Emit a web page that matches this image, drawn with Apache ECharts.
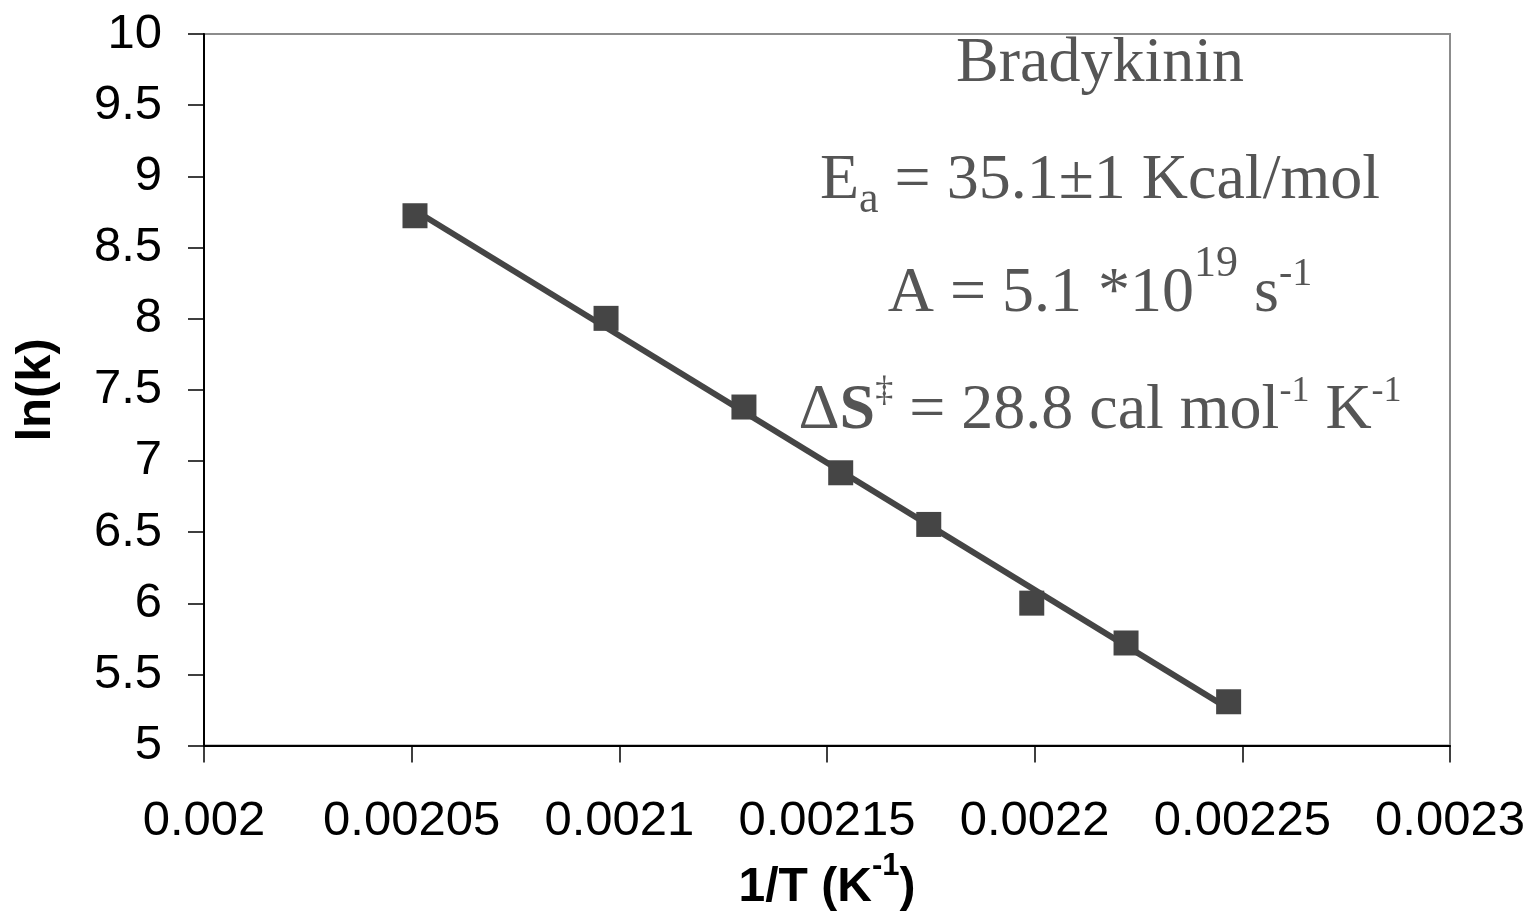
<!DOCTYPE html>
<html>
<head>
<meta charset="utf-8">
<script src="https://cdn.jsdelivr.net/npm/echarts@6/dist/echarts.min.js"></script>
<style>
html, body { margin: 0; padding: 0; background: #fff; }
#chart { width: 1535px; height: 917px; }
</style>
</head>
<body>
<div id="chart"></div>
<script>
// data
var invT = [0.0020508, 0.0020968, 0.0021300, 0.0021533, 0.0021745, 0.0021993, 0.0022220, 0.0022467];
var lnK = [8.723, 8.002, 7.379, 6.917, 6.554, 6.001, 5.721, 5.308];

// linear trendline endpoints
var trendX = [0.0020508, 0.0022467];
var trendY = [8.76, 5.26];

var xTickLabels = ['0.002', '0.00205', '0.0021', '0.00215', '0.0022', '0.00225', '0.0023'];
var yTickLabels = ['5', '5.5', '6', '6.5', '7', '7.5', '8', '8.5', '9', '9.5', '10'];

var xMin = 0.002, xMax = 0.0023, xStep = 0.00005;
var yMin = 5, yMax = 10, yStep = 0.5;

var sans = "'Liberation Sans', Arial, sans-serif";
var serif = "'Liberation Serif', 'Times New Roman', serif";
var ink = '#555';
var mark = '#454545';

var scatterData = [];
for (var i = 0; i < invT.length; i++) {
	scatterData.push([invT[i], lnK[i]]);
}
var trendData = [];
for (var j = 0; j < trendX.length; j++) {
	trendData.push([trendX[j], trendY[j]]);
}

// rich styles for the annotation block
var noteRich = {
	n: { fontSize: 64, fontFamily: serif, color: ink },
	b: { fontSize: 64, fontFamily: serif, color: ink, fontWeight: 'bold' },
	sub: { fontSize: 44, fontFamily: serif, color: ink, padding: [38, 0, 0, 0] },
	sup19: { fontSize: 44, fontFamily: serif, color: ink, padding: [0, 0, 60, 0] },
	sup: { fontSize: 40, fontFamily: serif, color: ink, padding: [0, 0, 40, 0] },
	sup2: { fontSize: 36, fontFamily: serif, color: ink, padding: [0, 0, 38, 0] }
};

function note(text, y) {
	return {
		type: 'text',
		x: 1100,
		y: y,
		style: {
			text: text,
			rich: noteRich,
			align: 'center',
			verticalAlign: 'middle',
			fill: ink,
			font: '64px ' + serif
		}
	};
}

var myChart = echarts.init(document.getElementById('chart'));
var option = {
	animation: false,
	backgroundColor: '#fff',
	grid: {
		left: 204,
		right: 85,
		top: 34,
		bottom: 169,
		show: true,
		borderColor: '#8c8c8c',
		borderWidth: 2
	},
	xAxis: {
		type: 'value',
		min: xMin,
		max: xMax,
		interval: xStep,
		name: '{b|1/T (K}{s|-1}{b|)}',
		nameLocation: 'middle',
		nameGap: 103,
		nameTextStyle: {
			color: '#000',
			fontSize: 48,
			fontWeight: 'bold',
			fontFamily: sans,
			rich: {
				b: { fontSize: 48, fontWeight: 'bold', fontFamily: sans, color: '#000' },
				s: { fontSize: 31, fontWeight: 'bold', fontFamily: sans, color: '#000', padding: [0, 0, 44, 0] }
			}
		},
		axisLine: { show: true, onZero: false, lineStyle: { color: '#000', width: 2 } },
		axisTick: { show: true, inside: false, length: 17, lineStyle: { color: '#000', width: 1.5 } },
		axisLabel: {
			color: '#000',
			fontSize: 49,
			fontFamily: sans,
			margin: 51,
			formatter: function (v) {
				return xTickLabels[Math.round((v - xMin) / xStep)];
			}
		},
		splitLine: { show: false }
	},
	yAxis: {
		type: 'value',
		min: yMin,
		max: yMax,
		interval: yStep,
		name: 'ln(k)',
		nameLocation: 'middle',
		nameRotate: 90,
		nameGap: 143,
		nameTextStyle: {
			color: '#000',
			fontSize: 49,
			fontWeight: 'bold',
			fontFamily: sans
		},
		axisLine: { show: true, onZero: false, lineStyle: { color: '#000', width: 2 } },
		axisTick: { show: true, inside: false, length: 16, lineStyle: { color: '#000', width: 1.5 } },
		axisLabel: {
			color: '#000',
			fontSize: 49,
			fontFamily: sans,
			margin: 42,
			formatter: function (v) {
				return yTickLabels[Math.round((v - yMin) / yStep)];
			}
		},
		splitLine: { show: false }
	},
	series: [
		{
			name: 'trend',
			type: 'line',
			data: trendData,
			showSymbol: false,
			symbol: 'none',
			lineStyle: { color: mark, width: 6 },
			z: 2
		},
		{
			name: 'ln(k)',
			type: 'scatter',
			data: scatterData,
			symbol: 'rect',
			symbolSize: 25,
			itemStyle: { color: mark, opacity: 1 },
			z: 3
		}
	],
	graphic: [
		note('{n|Bradykinin}', 64),
		note('{n|E}{sub|a}{n| = 35.1±1 Kcal/mol}', 181),
		note('{n|A = 5.1 *10}{sup19|19}{n| s}{sup|-1}', 294),
		note('{n|Δ}{b|S}{sup2|‡}{n| = 28.8 cal mol}{sup2|-1}{n| K}{sup2|-1}', 411)
	]
};
myChart.setOption(option);
</script>
</body>
</html>
